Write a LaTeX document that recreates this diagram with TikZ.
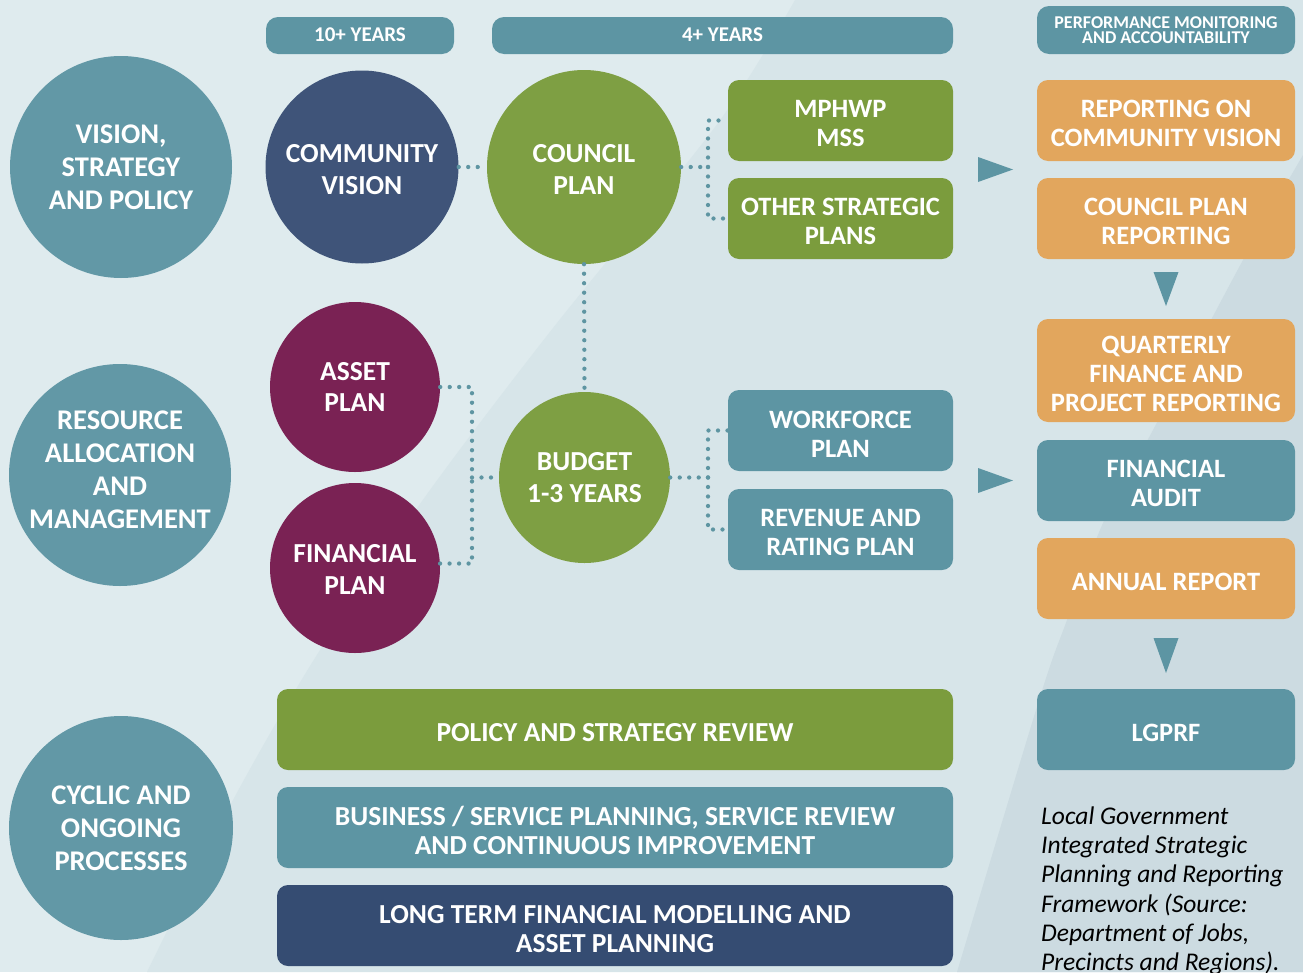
\documentclass[tikz,border=0pt]{standalone}
\usepackage{fontspec}
\setmainfont{Carlito}
\definecolor{bgA}{HTML}{DFEBEE}
\definecolor{bgB}{HTML}{D7E5E9}
\definecolor{bgC}{HTML}{CCDBE1}
\definecolor{tealC}{HTML}{6298A6}
\definecolor{tealB}{HTML}{5D95A3}
\definecolor{navyC}{HTML}{3F5479}
\definecolor{greenC}{HTML}{7E9F43}
\definecolor{greenB}{HTML}{7B9C3D}
\definecolor{plum}{HTML}{7A2254}
\definecolor{amber}{HTML}{E2A65D}
\definecolor{navyB}{HTML}{354C72}
\definecolor{dotc}{HTML}{5E95A2}
% zero-width rule that makes a first line taller, lowering a centred text block
\newcommand{\lift}[1]{\rule{0pt}{#1}}
\begin{document}
\begin{tikzpicture}[x=1pt,y=-1pt,
  every node/.style={inner sep=0pt, text=white, align=center},
  disc/.style={circle, fill=#1},
  tile/.style={rectangle, rounded corners=11pt, fill=#1},
  drop/.style={execute at begin node={\lift{#1}}},
  lead/.style={font=\bfseries\fontsize{28.5}{33}\selectfont},
  ctext/.style={font=\bfseries\fontsize{27.5}{31.5}\selectfont},
  btext/.style={font=\bfseries\fontsize{26.5}{29}\selectfont},
  wtext/.style={font=\bfseries\fontsize{27.5}{29}\selectfont},
  htext/.style={font=\bfseries\fontsize{21}{24}\selectfont, text depth=2pt},
  ptext/.style={font=\bfseries\fontsize{18}{15.5}\selectfont},
  dotline/.style={draw=dotc, line width=4.3pt, line cap=round, dash pattern=on 0pt off 9.5pt},
  pointer/.style={fill=tealB}]
\useasboundingbox (0,0) rectangle (1303,972);
% background panels
\fill[bgA] (0,0) rectangle (1303,972);
\fill[bgB] plot[smooth] coordinates {(795,0) (718,123) (553,328) (430,490) (320,650) (233,800) (147,972)}
  -- (1303,972) -- (1303,0) -- cycle;
\fill[bgC] plot[smooth] coordinates {(1303,155) (1243,260) (1153,430) (1103,523) (1067,620) (1040,697) (957,972)}
  -- (1303,972) -- cycle;

% row headings
\node[disc=tealC, minimum size=222pt, lead] (vis) at (121,167) {VISION,\\STRATEGY\\AND POLICY};
\node[disc=tealC, minimum size=222pt, lead, text depth=10pt] (res) at (120,475) {RESOURCE\\ALLOCATION\\AND\\MANAGEMENT};
\node[disc=tealC, minimum size=224pt, lead] (cyc) at (121,828) {CYCLIC AND\\ONGOING\\PROCESSES};

% column headings
\node[tile=tealB, rounded corners=12pt, minimum width=188pt, minimum height=37pt, htext] (y10) at (360,35.5) {10+ YEARS};
\node[tile=tealB, rounded corners=12pt, minimum width=461pt, minimum height=37pt, htext] (y4) at (722.5,35.5) {4+ YEARS};
\node[tile=tealB, rounded corners=12pt, minimum width=258pt, minimum height=48pt, ptext] (pma) at (1166,30) {PERFORMANCE MONITORING\\AND ACCOUNTABILITY};

% planning circles
\node[disc=navyC, minimum size=193pt, ctext] (cv) at (362,167) {\lift{23.2pt}COMMUNITY\\VISION};
\node[disc=greenC, minimum size=194pt, ctext] (cp) at (584,167) {\lift{23.2pt}COUNCIL\\PLAN};
\node[disc=plum, minimum size=170pt, ctext] (ap) at (355,387) {ASSET\\PLAN};
\node[disc=plum, minimum size=170pt, ctext] (fp) at (355,568) {\lift{21.2pt}FINANCIAL\\PLAN};
\node[disc=greenC, minimum size=171pt, ctext] (bud) at (584.5,477.5) {BUDGET\\1-3 YEARS};

% strategic and resource plans
\node[tile=greenB, minimum width=225pt, minimum height=81pt, btext] (mss) at (840.5,120.5) {\lift{23.5pt}MPHWP\\MSS};
\node[tile=greenB, minimum width=225pt, minimum height=81pt, btext] (osp) at (840.5,218.5) {\lift{23.5pt}OTHER STRATEGIC\\PLANS};
\node[tile=tealB, minimum width=225pt, minimum height=81pt, btext] (wf) at (840.5,430.5) {\lift{25.5pt}WORKFORCE\\PLAN};
\node[tile=tealB, minimum width=225pt, minimum height=81pt, btext] (rr) at (840.5,529.5) {\lift{23.5pt}REVENUE AND\\RATING PLAN};

% reporting column
\node[tile=amber, minimum width=258pt, minimum height=81pt, btext] (r1) at (1166,120.5) {\lift{23.5pt}REPORTING ON\\COMMUNITY VISION};
\node[tile=amber, minimum width=258pt, minimum height=81pt, btext] (r2) at (1166,218.5) {\lift{23.5pt}COUNCIL PLAN\\REPORTING};
\node[tile=amber, minimum width=258pt, minimum height=103pt, btext] (r3) at (1166,370.5) {\lift{23.5pt}QUARTERLY\\FINANCE AND\\PROJECT REPORTING};
\node[tile=tealB, minimum width=258pt, minimum height=81pt, btext] (r4) at (1166,480.5) {\lift{23.5pt}FINANCIAL\\AUDIT};
\node[tile=amber, minimum width=258pt, minimum height=81pt, btext, drop=23.5pt] (r5) at (1166,578.5) {ANNUAL REPORT};
\node[tile=tealB, minimum width=258pt, minimum height=81pt, btext, drop=23.5pt] (r6) at (1166,729.5) {LGPRF};

% ongoing processes
\node[tile=greenB, minimum width=676pt, minimum height=81pt, wtext, drop=24.2pt] (b1) at (615,729.5) {POLICY AND STRATEGY REVIEW};
\node[tile=tealB, minimum width=676pt, minimum height=81pt, wtext] (b2) at (615,827.5) {\lift{24.2pt}BUSINESS / SERVICE PLANNING, SERVICE REVIEW\\AND CONTINUOUS IMPROVEMENT};
\node[tile=navyB, minimum width=676pt, minimum height=81pt, wtext] (b3) at (615,925.5) {\lift{24.2pt}LONG TERM FINANCIAL MODELLING AND\\ASSET PLANNING};

% caption
\node[anchor=north west, align=left, text=black, font=\itshape\fontsize{25.5}{29.2}\selectfont] (cap) at (1041,806.5)
  {Local Government\\Integrated Strategic\\Planning and Reporting\\Framework (Source:\\Department of Jobs,\\Precincts and Regions).};

% dotted links
\coordinate (jc) at (708,167);
\coordinate (jb) at (708,477.5);
\coordinate (ja) at (472,477.5);
\draw[dotline] (cv.east) -- (cp.west);
\draw[dotline] (cp.east) -- (jc);
\draw[dotline] (jc) |- (mss.west);
\draw[dotline] (jc) |- (osp.west);
\draw[dotline] (cp.south) -- (bud.north);
\draw[dotline] (bud.east) -- (jb);
\draw[dotline] (jb) |- (wf.west);
\draw[dotline] (jb) |- (rr.west);
\draw[dotline] (ap.east) -| (ja);
\draw[dotline] (fp.3) -| (ja);
\draw[dotline] (ja) -- (bud.west);

% flow pointers
\fill[pointer] (978,157) -- (1013,169.5) -- (978,182) -- cycle;
\fill[pointer] (978,468) -- (1013,480.5) -- (978,493) -- cycle;
\fill[pointer] (1153.5,272) -- (1178.5,272) -- (1166,306) -- cycle;
\fill[pointer] (1153.5,638) -- (1178.5,638) -- (1166,673) -- cycle;
\end{tikzpicture}
\end{document}
